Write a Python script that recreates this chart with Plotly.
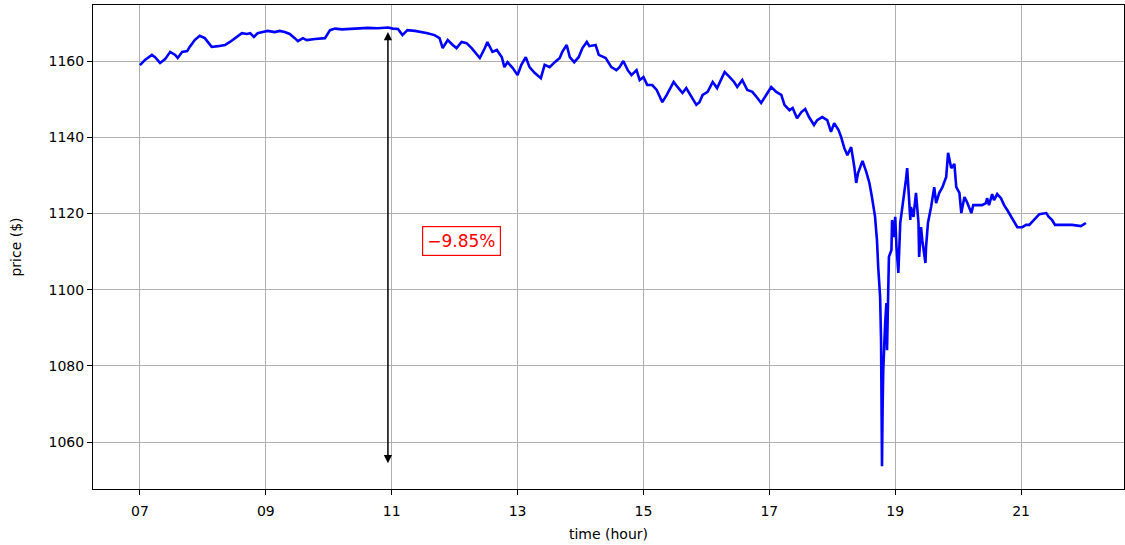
import plotly.graph_objects as go

# time in hours, price in $
hours = [7.00, 7.08, 7.19, 7.24, 7.32, 7.40, 7.48, 7.56, 7.60, 7.67, 7.75, 7.79, 7.87, 7.95,
         8.03, 8.10, 8.14, 8.24, 8.35, 8.43, 8.51, 8.62, 8.70, 8.75, 8.81, 8.87, 8.95,
         9.03, 9.14, 9.22, 9.30, 9.38, 9.46, 9.51, 9.59, 9.65, 9.78, 9.94,
         10.02, 10.10, 10.21, 10.37, 10.46, 10.62, 10.78, 10.94,
         11.02, 11.10, 11.17, 11.25, 11.37, 11.48, 11.57, 11.68, 11.76, 11.81, 11.89, 11.97,
         12.03, 12.11, 12.19, 12.27, 12.35, 12.40, 12.48, 12.52, 12.60, 12.67, 12.75, 12.79, 12.84, 12.92,
         13.00, 13.06, 13.13, 13.19, 13.27, 13.37, 13.43, 13.51, 13.59, 13.67, 13.71, 13.78, 13.83, 13.90, 13.97,
         14.03, 14.10, 14.14, 14.24, 14.29, 14.40, 14.49, 14.57, 14.62, 14.68, 14.75, 14.81, 14.89, 14.94,
         15.00, 15.06, 15.14, 15.21, 15.25, 15.30, 15.37, 15.43, 15.48, 15.54, 15.62, 15.68, 15.76, 15.84, 15.89, 15.94,
         16.02, 16.10, 16.17, 16.24, 16.29, 16.37, 16.44, 16.49, 16.57, 16.65, 16.73, 16.81, 16.87, 16.95,
         17.03, 17.11, 17.19, 17.24, 17.32, 17.37, 17.44, 17.51, 17.57, 17.63, 17.71, 17.76, 17.84, 17.92, 17.98,
         18.03, 18.10, 18.14, 18.19, 18.24, 18.30, 18.35, 18.38, 18.41, 18.48, 18.54, 18.59, 18.63, 18.65, 18.68,
         18.70, 18.71, 18.73, 18.76, 18.775, 18.785, 18.79, 18.80, 18.81, 18.84, 18.86, 18.87, 18.89, 18.90, 18.94,
         18.95, 18.98, 19.00, 19.02, 19.05, 19.08, 19.11, 19.14, 19.17, 19.19, 19.21, 19.24, 19.25, 19.29, 19.33,
         19.37, 19.38, 19.41, 19.43, 19.48, 19.49, 19.52, 19.57, 19.62, 19.65, 19.70, 19.75, 19.81, 19.84, 19.89,
         19.94, 19.97, 20.02, 20.05, 20.10, 20.14, 20.21, 20.24, 20.29, 20.38, 20.44, 20.46, 20.49, 20.54, 20.57,
         20.62, 20.68, 20.73, 20.78, 20.84, 20.89, 20.94, 21.02, 21.08, 21.13, 21.21, 21.29, 21.40, 21.44, 21.49,
         21.54, 21.65, 21.81, 21.95, 22.03]
prices = [1158.9, 1160.3, 1161.6, 1161.0, 1159.5, 1160.5, 1162.4, 1161.6, 1160.8, 1162.4, 1162.6, 1163.7, 1165.5, 1166.6,
          1166.0, 1164.7, 1163.7, 1163.9, 1164.2, 1165.0, 1166.0, 1167.3, 1167.1, 1167.3, 1166.3, 1167.3, 1167.6,
          1167.9, 1167.6, 1167.9, 1167.6, 1167.1, 1166.0, 1165.2, 1166.0, 1165.5, 1165.8, 1166.0,
          1168.1, 1168.5, 1168.3, 1168.4, 1168.6, 1168.7, 1168.6, 1168.8,
          1168.5, 1168.4, 1166.8, 1168.1, 1167.9, 1167.6, 1167.3, 1166.8, 1166.0, 1163.4, 1165.5, 1164.2,
          1163.4, 1165.0, 1164.7, 1163.4, 1161.6, 1160.8, 1163.4, 1165.0, 1162.4, 1162.9, 1161.0, 1158.4, 1159.7, 1158.2,
          1156.3, 1159.0, 1161.0, 1158.4, 1156.9, 1155.5, 1159.0, 1158.4, 1159.7, 1160.8, 1162.4, 1164.2, 1161.0, 1159.7, 1161.0,
          1163.4, 1165.0, 1163.9, 1164.2, 1161.6, 1160.8, 1158.4, 1157.6, 1158.4, 1160.0, 1157.6, 1156.3, 1157.6, 1155.0,
          1155.8, 1153.7, 1153.7, 1152.4, 1151.1, 1149.2, 1151.1, 1152.9, 1154.5, 1153.2, 1151.6, 1152.9, 1150.6, 1148.5, 1149.2, 1151.1,
          1151.9, 1154.5, 1152.9, 1155.5, 1157.1, 1155.8, 1154.5, 1153.2, 1155.0, 1152.4, 1151.9, 1150.3, 1149.0, 1151.1,
          1153.2, 1151.9, 1151.1, 1148.5, 1147.1, 1147.7, 1145.0, 1146.6, 1147.4, 1145.3, 1143.2, 1144.5, 1145.3, 1144.5, 1141.4,
          1143.7, 1141.9, 1140.1, 1137.2, 1135.3, 1137.4, 1132.2, 1128.0, 1130.6, 1133.8, 1130.9, 1128.0, 1124.3, 1122.2, 1119.1,
          1114.9, 1113.0, 1105.9, 1098.1, 1086.8, 1071.0, 1053.7, 1069.2, 1078.9, 1091.2, 1096.5, 1084.1, 1098.1, 1108.6, 1110.4,
          1118.3, 1113.8, 1119.1, 1111.2, 1104.4, 1117.5, 1120.9, 1124.3, 1128.8, 1131.9, 1126.1, 1118.3, 1121.7, 1119.1, 1125.4,
          1117.5, 1108.6, 1116.4, 1113.0, 1107.0, 1111.2, 1117.5, 1121.7, 1126.9, 1122.7, 1125.4, 1126.9, 1129.6, 1135.9, 1131.9,
          1133.0, 1126.9, 1125.4, 1120.1, 1124.3, 1123.0, 1120.1, 1122.2, 1122.2, 1122.2, 1122.7, 1124.0, 1122.2, 1125.1, 1123.5,
          1125.1, 1124.0, 1122.2, 1120.9, 1119.1, 1117.5, 1116.4, 1116.4, 1117.0, 1117.0, 1118.3, 1119.8, 1120.1, 1119.1, 1118.3,
          1117.0, 1117.0, 1117.0, 1116.7, 1117.5]

x_ticks = [7, 9, 11, 13, 15, 17, 19, 21]
x_tick_labels = ["07", "09", "11", "13", "15", "17", "19", "21"]
y_ticks = [1060, 1080, 1100, 1120, 1140, 1160]

p_max = max(prices)
p_min = min(prices)
t_max = hours[prices.index(p_max)]
drop_pct = (p_min - p_max) / p_max * 100
label = "\u2212%.2f%%" % abs(drop_pct)

font = "DejaVu Sans"
fig = go.Figure()
fig.add_trace(go.Scatter(x=hours, y=prices, mode="lines",
                         line=dict(color="#0000ff", width=2.6), showlegend=False))

fig.add_annotation(x=t_max, y=p_min, ax=t_max, ay=p_max, xref="x", yref="y",
                   axref="x", ayref="y", text="", showarrow=True,
                   arrowhead=2, arrowsize=1.1, arrowwidth=1.5, arrowcolor="black",
                   arrowside="end+start", standoff=3, startstandoff=3)
fig.add_annotation(x=12.11, y=1112.8, xref="x", yref="y", text=label, showarrow=False,
                   font=dict(family=font, size=17, color="red"),
                   bgcolor="white", bordercolor="red", borderwidth=1.2, borderpad=4)

axis_common = dict(showline=True, linecolor="black", linewidth=1, mirror=True,
                   ticks="outside", ticklen=5, tickcolor="black", tickwidth=1,
                   showgrid=True, gridcolor="#b0b0b0", gridwidth=1, zeroline=False,
                   tickfont=dict(family=font, size=14, color="black"))
fig.update_xaxes(range=[6.254, 22.635], tickvals=x_ticks, ticktext=x_tick_labels,
                 ticklabelstandoff=4,
                 title=dict(text="time (hour)", font=dict(family=font, size=14, color="black"), standoff=11),
                 **axis_common)
fig.update_yaxes(range=[1047.7, 1174.7], tickvals=y_ticks,
                 title=dict(text="price ($)", font=dict(family=font, size=14, color="black"), standoff=23),
                 **axis_common)
fig.update_layout(width=1125, height=545, margin=dict(l=93, r=1, t=5, b=56, autoexpand=False),
                  plot_bgcolor="white", paper_bgcolor="white",
                  font=dict(family=font, size=14, color="black"))
fig.write_html("out.html", config={"displayModeBar": False},
               post_script="document.body.style.margin='0px';document.body.style.overflow='hidden';")
